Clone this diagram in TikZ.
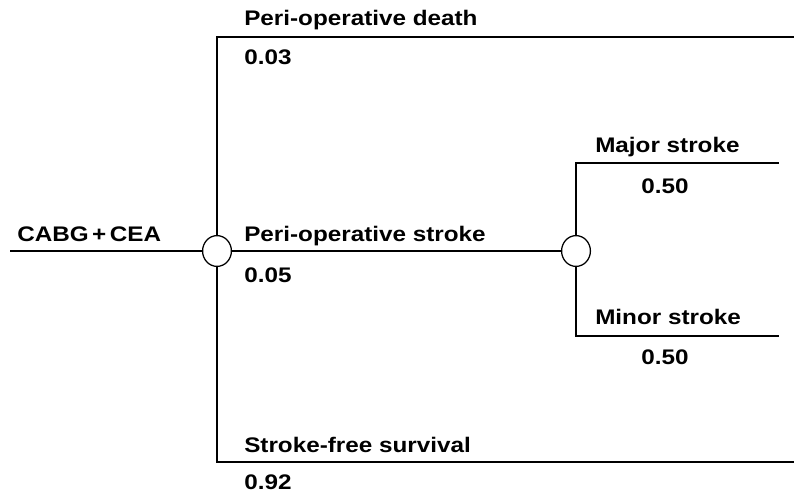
\documentclass[tikz,border=0pt]{standalone}
\usepackage{fontspec}
\setmainfont[FakeStretch=1.15]{Liberation Sans}
\usetikzlibrary{positioning,shapes.geometric}

\tikzset{
    chance/.style={draw, ellipse, fill=white, minimum width=0.72cm, minimum height=0.77cm, inner sep=0pt, line width=0.9pt},
    branch/.style={line width=0.9pt},
    lbl/.style={anchor=base west, inner sep=0pt, font=\bfseries\fontsize{15}{18}\selectfont}
}

\begin{document}
\begin{tikzpicture}[x=0.025cm, y=-0.025cm]
    \useasboundingbox (0,0) rectangle (808,500);
    % chance nodes
    \node[chance] (c1) at (217,251) {};
    \node[chance] (c2) at (576,251) {};
    % free ends
    \coordinate (root) at (10,251);
    \coordinate (deathend) at (794,37);
    \coordinate (survend) at (794,462);
    \coordinate (majorend) at (779,163);
    \coordinate (minorend) at (779,336);
    % branches
    \draw[branch] (root) -- (c1);
    \draw[branch] (c1) |- (deathend);
    \draw[branch] (c1) |- (survend);
    \draw[branch] (c1) -- (c2);
    \draw[branch] (c2) |- (majorend);
    \draw[branch] (c2) |- (minorend);
    % labels
    \node[lbl] (cabg) at (17,241) {CABG\,+\,CEA};
    \node[lbl] (death) at (244,25) {Peri-operative death};
    \node[lbl] (pdeath) at (244,64) {0.03};
    \node[lbl] (stroke) at (244,241) {Peri-operative stroke};
    \node[lbl] (pstroke) at (244,282) {0.05};
    \node[lbl] (major) at (595,152) {Major stroke};
    \node[lbl] (pmajor) at (641,193) {0.50};
    \node[lbl] (minor) at (595,324) {Minor stroke};
    \node[lbl] (pminor) at (641,364) {0.50};
    \node[lbl] (surv) at (244,452) {Stroke-free survival};
    \node[lbl] (psurv) at (244,489) {0.92};
\end{tikzpicture}
\end{document}
